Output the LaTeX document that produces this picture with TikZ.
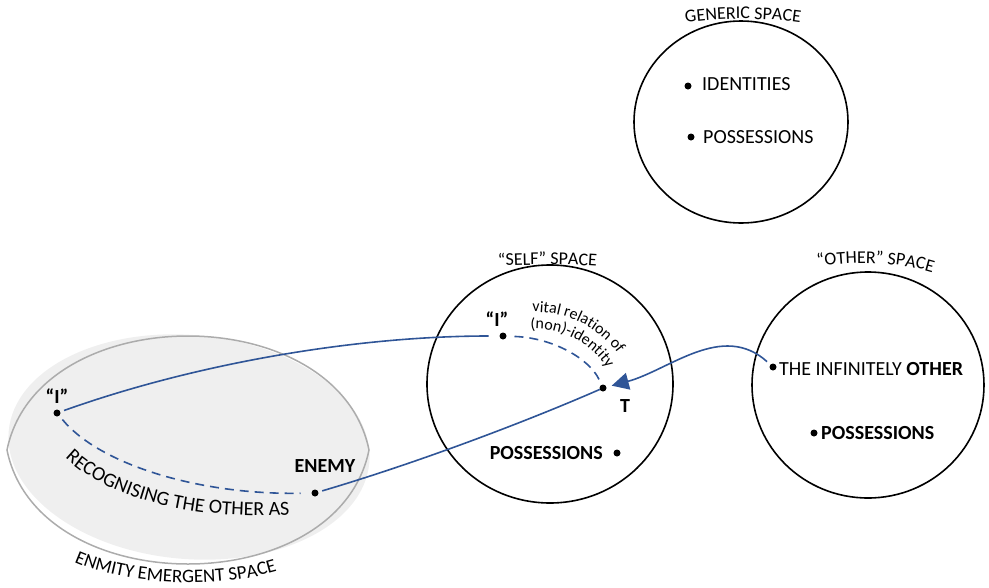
\documentclass[tikz,border=0pt]{standalone}
\usepackage{fontspec}
\setmainfont{Carlito}
\usetikzlibrary{arrows.meta,decorations.text,shapes.geometric}
\definecolor{linkblue}{RGB}{47,85,151}
\definecolor{enmfill}{RGB}{239,239,239}
\definecolor{enmline}{RGB}{172,172,172}
\begin{document}
\begin{tikzpicture}[x=1pt,y=1pt,
  dot/.style={circle,fill=black,inner sep=0pt,minimum size=7pt,outer sep=0pt},
  txt/.style={inner sep=0pt,font=\fontsize{20}{24}\selectfont},
  btxt/.style={inner sep=0pt,font=\fontsize{20}{24}\selectfont\bfseries},
  spacecirc/.style={draw=black,line width=1.6pt,ellipse,inner sep=0pt},
  link/.style={linkblue,line width=1.6pt},
  linkdash/.style={linkblue,line width=1.6pt,dash pattern=on 9pt off 6pt}
]
\useasboundingbox (0,0) rectangle (989,-587);

% enmity emergent space
\fill[enmfill, rotate around={-5:(189,-447)}] (189,-447) ellipse [x radius=181, y radius=112];
\draw[enmline, line width=1.5pt] (7,-450) .. controls (38,-298) and (338,-298) .. (369,-450)
   .. controls (338,-602) and (38,-602) .. (7,-450) -- cycle;
\coordinate (enm) at (188,-450);

% spaces
\node[spacecirc, minimum width=214pt, minimum height=202pt] (gen) at (741,-122) {};
\node[spacecirc, minimum width=246pt, minimum height=238pt] (self) at (550,-384) {};
\node[spacecirc, minimum width=232pt, minimum height=226pt] (other) at (868,-385) {};

% curved space labels
\path[decorate, decoration={text along path, text align=center,
  text={|\fontsize{18}{22}\selectfont|GENERIC SPACE}}]
  (675,-24.5) .. controls (720,-17) and (766,-17) .. (811,-24.5);
\path[decorate, decoration={text along path, text align=center,
  text={|\fontsize{18}{22}\selectfont|“SELF” SPACE}}]
  (490,-267) .. controls (520,-264) and (575,-264) .. (605,-267);
\path[decorate, decoration={text along path, text align=center,
  text={|\fontsize{18}{22}\selectfont|“OTHER” SPACE}}]
  (805,-270) .. controls (840,-260) and (905,-260) .. (945,-277);
\path[decorate, decoration={text along path, text align=center,
  text={|\fontsize{19}{23}\selectfont|ENMITY EMERGENT SPACE}}]
  (62,-556) .. controls (116,-586) and (222,-592) .. (290,-567);

% generic space content
\node[dot] (gI) at (688,-86) {};
\node[txt, anchor=base west] (gIt) at (702,-90) {IDENTITIES};
\node[dot] (gP) at (691,-137) {};
\node[txt, anchor=base west] (gPt) at (703,-143) {POSSESSIONS};

% self space content
\node[dot] (sI) at (503,-336) {};
\node[btxt, anchor=base] (sIt) at (497,-326) {“I”};
\node[dot] (T) at (603,-388) {};
\node[btxt, anchor=base] (Tt) at (625,-412) {T};
\node[dot] (sP) at (617,-453) {};
\node[btxt, anchor=base east] (sPt) at (603,-459) {POSSESSIONS};

% other space content
\node[dot] (oI) at (773,-367) {};
\node[txt, anchor=base west] (oIt) at (779,-375) {THE INFINITELY \textbf{OTHER}};
\node[dot] (oP) at (814,-433) {};
\node[btxt, anchor=base west] (oPt) at (821,-439) {POSSESSIONS};

% enmity content
\node[dot] (eI) at (57,-413) {};
\node[btxt, anchor=base] (eIt) at (57,-403) {“I”};
\node[dot] (enemy) at (315,-493) {};
\node[btxt, anchor=base] (enemyt) at (325,-472) {ENEMY};

% connectors
\draw[link, shorten <=4pt, shorten >=11pt] (eI) .. controls (200,-362) and (360,-336) .. (sI);
\draw[link, shorten <=4pt] (enemy) .. controls (420,-462) and (530,-420) .. (T);
\draw[link, -{Triangle[length=17pt,width=17pt]}, shorten <=4.5pt, shorten >=5.5pt]
  (oI) to[out=138,in=15] (T);
\draw[linkdash, shorten <=5pt, shorten >=11pt] (eI) .. controls (100,-465) and (200,-495) .. (enemy);
\draw[linkdash, shorten <=8pt, shorten >=6pt] (sI) .. controls (555,-338) and (590,-360) .. (T);

% connector labels
\path[decorate, decoration={text along path, text align=center,
  text={|\fontsize{20}{24}\selectfont|RECOGNISING THE OTHER AS}}]
  (58,-450) .. controls (100,-500) and (200,-522) .. (300,-514);
\path[decorate, decoration={text along path, text align=center,
  text={|\fontsize{16}{19}\selectfont|vital relation of}}]
  ([shift={(99:103)}]535,-415) arc[start angle=99, end angle=29, radius=103];
\path[decorate, decoration={text along path, text align=center,
  text={|\fontsize{16}{19}\selectfont|(non)-identity}}]
  ([shift={(103:86)}]535,-415) arc[start angle=103, end angle=23, radius=86];
\end{tikzpicture}
\end{document}
